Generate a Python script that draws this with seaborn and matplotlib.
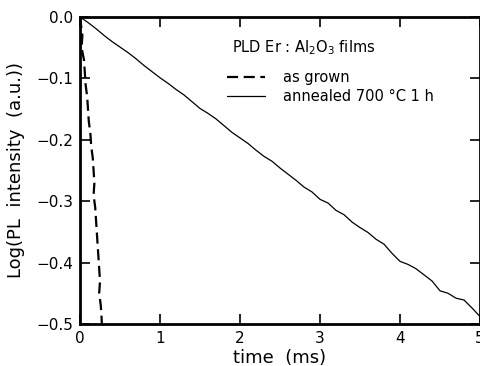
import numpy as np
import pandas as pd
import matplotlib
matplotlib.use("Agg")
import matplotlib.pyplot as plt
import seaborn as sns

# annealed 700 C 1 h (solid)
t_ann = [round(0.1 * i, 2) for i in range(51)]
y_ann = [0.000, -0.009, -0.019, -0.030, -0.040, -0.049, -0.058, -0.068, -0.079, -0.089,
         -0.099, -0.108, -0.118, -0.127, -0.138, -0.149, -0.157, -0.166, -0.177, -0.188,
         -0.197, -0.206, -0.217, -0.227, -0.235, -0.246, -0.256, -0.266, -0.277, -0.285,
         -0.297, -0.303, -0.315, -0.322, -0.334, -0.343, -0.351, -0.362, -0.370, -0.385,
         -0.398, -0.403, -0.410, -0.420, -0.430, -0.446, -0.450, -0.458, -0.461, -0.474,
         -0.488]

# as grown (dashed)
t_grown = [0.00, 0.01, 0.03, 0.02, 0.05, 0.06, 0.07, 0.09, 0.10, 0.11, 0.13, 0.14, 0.16,
           0.17, 0.18, 0.17, 0.19, 0.20, 0.21, 0.22, 0.23, 0.24, 0.25, 0.24, 0.26, 0.27, 0.28]
y_grown = [0.00, -0.01, -0.03, -0.05, -0.07, -0.09, -0.11, -0.13, -0.15, -0.17, -0.19,
           -0.21, -0.23, -0.25, -0.27, -0.29, -0.31, -0.33, -0.35, -0.37, -0.39, -0.41,
           -0.43, -0.45, -0.47, -0.49, -0.52]

x_ticks = [0, 1, 2, 3, 4, 5]
y_ticks = [0.0, -0.1, -0.2, -0.3, -0.4, -0.5]

sns.set_style("ticks")
plt.rcParams['font.family'] = ['DejaVu Sans']
plt.rcParams['text.color'] = 'black'
plt.rcParams['axes.labelcolor'] = 'black'
plt.rcParams['xtick.color'] = 'black'
plt.rcParams['ytick.color'] = 'black'
plt.rcParams['axes.edgecolor'] = 'black'

fig = plt.figure(figsize=(4.81, 3.66), dpi=100)
ax = fig.add_axes([0.1663, 0.1148, 0.8317, 0.8388])

df_g = pd.DataFrame({"t": t_grown, "y": y_grown})
df_a = pd.DataFrame({"t": t_ann, "y": y_ann})
sns.lineplot(data=df_g, x="t", y="y", sort=False, estimator=None, ax=ax,
             color="black", lw=1.6, linestyle=(0, (5, 2.5)), label="as grown")
sns.lineplot(data=df_a, x="t", y="y", sort=False, estimator=None, ax=ax,
             color="black", lw=0.9, label="annealed 700 °C 1 h")

ax.set_xlim(0, 5)
ax.set_ylim(-0.5, 0.0)
ax.set_xticks(x_ticks)
ax.set_xticklabels([str(v) for v in x_ticks])
ax.set_yticks(y_ticks)
ax.set_yticklabels(["0.0", "\u22120.1", "\u22120.2", "\u22120.3", "\u22120.4", "\u22120.5"])
ax.tick_params(direction="in", top=True, right=True, length=7, width=1.2,
               labelsize=11, pad=5, colors="black")
for s in ax.spines.values():
    s.set_linewidth(2)
    s.set_visible(True)
    s.set_color("black")
ax.set_xlabel("time  (ms)", fontsize=13, labelpad=2, color="black")
ax.set_ylabel("Log(PL  intensity  (a.u.))", fontsize=13, labelpad=8, color="black")

ax.text(0.38, 0.9, "PLD Er : Al$_2$O$_3$ films", transform=ax.transAxes,
        fontsize=10.5, va="center", ha="left", color="black")
leg = ax.legend(loc="upper left", bbox_to_anchor=(0.335, 0.87), frameon=False,
                fontsize=10.5, handlelength=2.6, handletextpad=1.2, labelspacing=0.3)
for txt in leg.get_texts():
    txt.set_color("black")

fig.savefig("out.png", dpi=100)
